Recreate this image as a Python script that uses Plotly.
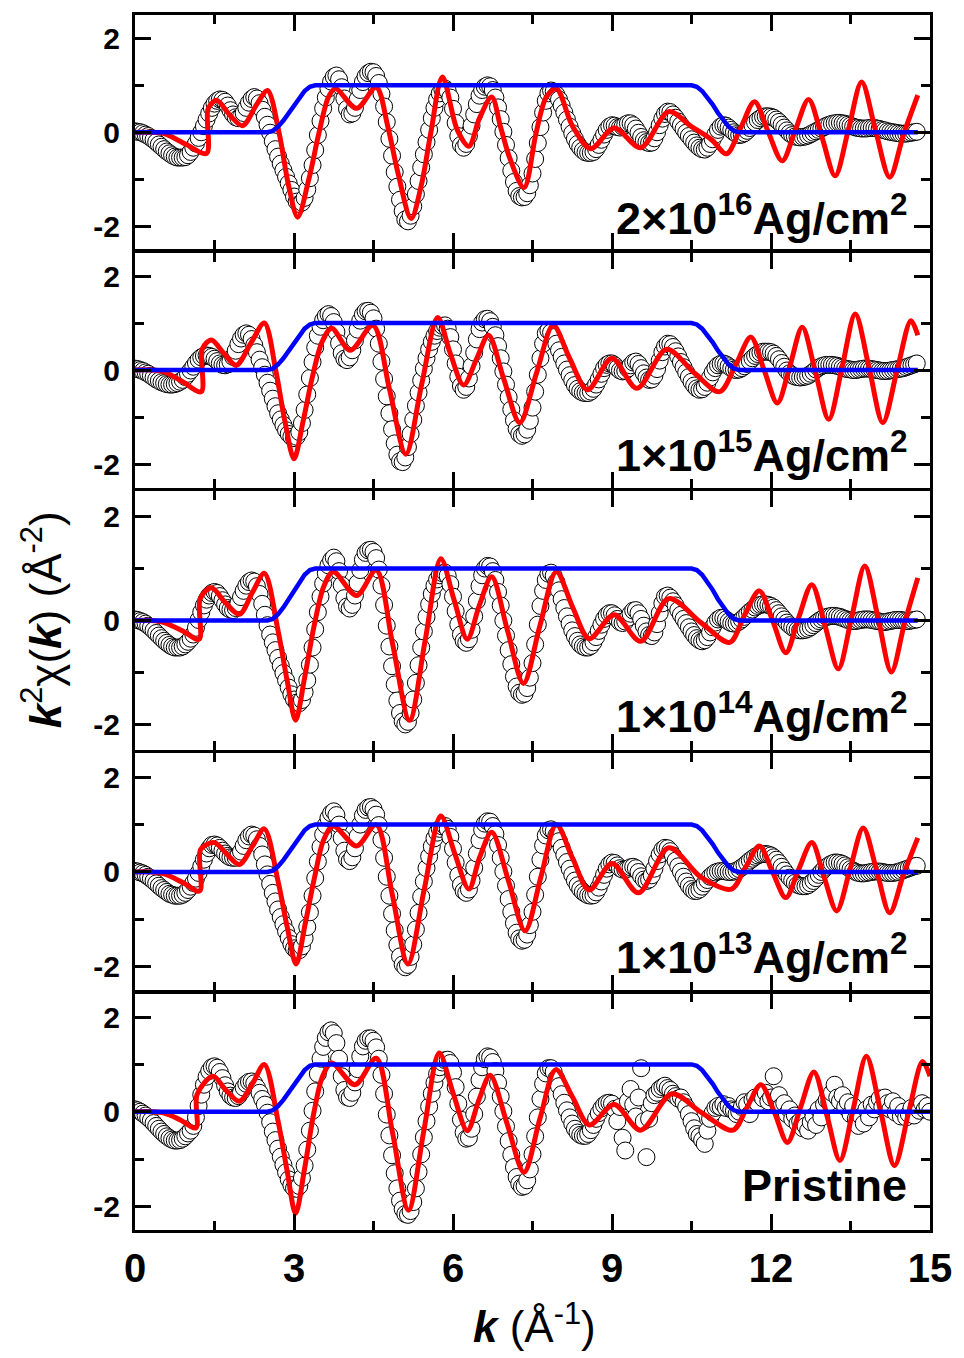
import numpy as np
import plotly.graph_objects as go

# ---------------- data ----------------
K_STEP = 0.05  # sampling step of the measured k^2 chi(k) data

# measured data (open circles), k = 0, 0.05, 0.10, ...
chi_2e16 = [
 0.02, 0.01, 0.00, -0.02, -0.05, -0.08, -0.12, -0.16, -0.21, -0.26, -0.31, -0.36, -0.41, -0.45, -0.49, -0.52, -0.54, -0.54, -0.54, -0.53,
 -0.49, -0.42, -0.33, -0.24, -0.12, 0.00, 0.13, 0.27, 0.40, 0.52, 0.61, 0.67, 0.70, 0.69, 0.65, 0.57, 0.47, 0.38, 0.32, 0.30,
 0.33, 0.41, 0.52, 0.63, 0.71, 0.75, 0.72, 0.62, 0.48, 0.33, 0.16, -0.01, -0.19, -0.36, -0.52, -0.67, -0.81, -0.95, -1.09, -1.23,
 -1.37, -1.48, -1.53, -1.50, -1.40, -1.22, -0.98, -0.70, -0.38, -0.06, 0.24, 0.51, 0.74, 0.93, 1.08, 1.18, 1.21, 1.13, 0.96, 0.72,
 0.50, 0.38, 0.40, 0.52, 0.70, 0.90, 1.07, 1.19, 1.26, 1.29, 1.28, 1.20, 1.05, 0.82, 0.55, 0.22, -0.14, -0.50, -0.85, -1.16,
 -1.44, -1.68, -1.86, -1.90, -1.78, -1.58, -1.32, -1.04, -0.75, -0.47, -0.21, 0.05, 0.30, 0.52, 0.70, 0.83, 0.91, 0.93, 0.88, 0.74,
 0.50, 0.20, -0.08, -0.27, -0.33, -0.25, -0.08, 0.14, 0.38, 0.60, 0.78, 0.90, 0.97, 1.00, 0.98, 0.90, 0.74, 0.53, 0.28, 0.01,
 -0.27, -0.55, -0.82, -1.06, -1.25, -1.36, -1.39, -1.38, -1.30, -1.13, -0.88, -0.57, -0.23, 0.11, 0.42, 0.67, 0.83, 0.89, 0.87, 0.80,
 0.70, 0.57, 0.42, 0.27, 0.12, -0.02, -0.14, -0.25, -0.33, -0.39, -0.43, -0.44, -0.44, -0.42, -0.36, -0.27, -0.16, -0.05, 0.05, 0.12,
 0.15, 0.14, 0.11, 0.10, 0.12, 0.16, 0.19, 0.19, 0.15, 0.08, -0.01, -0.10, -0.17, -0.21, -0.23, -0.22, -0.13, 0.00, 0.15, 0.29,
 0.39, 0.44, 0.43, 0.38, 0.31, 0.23, 0.15, 0.07, -0.01, -0.08, -0.15, -0.22, -0.28, -0.33, -0.36, -0.37, -0.33, -0.25, -0.15, -0.05,
 0.05, 0.12, 0.15, 0.14, 0.10, 0.05, 0.00, -0.04, -0.06, -0.05, -0.02, 0.03, 0.09, 0.15, 0.21, 0.26, 0.30, 0.33, 0.34, 0.34,
 0.33, 0.31, 0.27, 0.22, 0.16, 0.10, 0.04, -0.02, -0.06, -0.09, -0.10, -0.11, -0.10, -0.09, -0.07, -0.04, -0.01, 0.02, 0.05, 0.08,
 0.11, 0.14, 0.16, 0.18, 0.19, 0.20, 0.20, 0.19, 0.18, 0.16, 0.14, 0.12, 0.10, 0.09, 0.08, 0.08, 0.08, 0.09, 0.09, 0.09,
 0.08, 0.07, 0.05, 0.04, 0.02, 0.01, 0.00, -0.01, -0.02, -0.03, -0.03, -0.03, -0.02, -0.01, 0.00, 0.01,
]

chi_1e15 = [
 0.03, 0.02, 0.00, -0.02, -0.05, -0.08, -0.12, -0.16, -0.20, -0.23, -0.26, -0.28, -0.30, -0.31, -0.31, -0.30, -0.28, -0.25, -0.21, -0.15,
 -0.08, -0.01, 0.07, 0.15, 0.22, 0.27, 0.30, 0.31, 0.30, 0.28, 0.24, 0.19, 0.14, 0.11, 0.10, 0.12, 0.18, 0.28, 0.41, 0.55,
 0.67, 0.75, 0.78, 0.75, 0.66, 0.53, 0.38, 0.22, 0.06, -0.10, -0.27, -0.44, -0.61, -0.77, -0.92, -1.05, -1.17, -1.28, -1.36, -1.42,
 -1.45, -1.42, -1.32, -1.13, -0.85, -0.52, -0.17, 0.17, 0.48, 0.73, 0.92, 1.06, 1.15, 1.19, 1.15, 1.02, 0.81, 0.57, 0.36, 0.24,
 0.21, 0.27, 0.42, 0.63, 0.86, 1.05, 1.18, 1.25, 1.26, 1.22, 1.10, 0.88, 0.56, 0.18, -0.19, -0.56, -0.92, -1.26, -1.56, -1.80,
 -1.94, -1.96, -1.86, -1.64, -1.36, -1.06, -0.76, -0.48, -0.22, 0.03, 0.25, 0.44, 0.60, 0.73, 0.83, 0.90, 0.94, 0.95, 0.88, 0.70,
 0.44, 0.14, -0.14, -0.34, -0.42, -0.36, -0.18, 0.08, 0.37, 0.65, 0.87, 1.01, 1.08, 1.09, 1.04, 0.92, 0.74, 0.51, 0.25, -0.03,
 -0.31, -0.58, -0.84, -1.07, -1.25, -1.36, -1.40, -1.37, -1.27, -1.08, -0.80, -0.46, -0.10, 0.25, 0.56, 0.78, 0.84, 0.80, 0.70, 0.56,
 0.42, 0.28, 0.14, 0.01, -0.11, -0.22, -0.32, -0.40, -0.45, -0.48, -0.49, -0.49, -0.46, -0.40, -0.31, -0.20, -0.08, 0.04, 0.11, 0.14,
 0.14, 0.10, 0.04, -0.01, -0.03, -0.02, 0.03, 0.10, 0.16, 0.18, 0.13, 0.04, -0.07, -0.16, -0.21, -0.20, -0.12, 0.02, 0.20, 0.38,
 0.50, 0.56, 0.55, 0.49, 0.40, 0.29, 0.17, 0.06, -0.05, -0.15, -0.25, -0.33, -0.39, -0.42, -0.41, -0.36, -0.27, -0.16, -0.05, 0.04,
 0.10, 0.13, 0.14, 0.12, 0.08, 0.04, 0.01, 0.00, 0.01, 0.04, 0.08, 0.13, 0.19, 0.25, 0.30, 0.34, 0.37, 0.39, 0.39, 0.39,
 0.38, 0.35, 0.30, 0.23, 0.15, 0.07, -0.01, -0.07, -0.11, -0.14, -0.15, -0.16, -0.15, -0.14, -0.12, -0.08, -0.04, 0.01, 0.05, 0.08,
 0.10, 0.11, 0.11, 0.11, 0.10, 0.09, 0.07, 0.05, 0.03, 0.02, 0.01, 0.00, 0.00, 0.01, 0.02, 0.03, 0.03, 0.03, 0.02, 0.01,
 0.00, -0.01, -0.02, -0.02, -0.02, -0.01, 0.00, 0.01, 0.02, 0.03, 0.04, 0.06, 0.08, 0.10, 0.12, 0.14,
]

chi_1e14 = [
 0.02, 0.01, -0.01, -0.03, -0.06, -0.10, -0.14, -0.19, -0.24, -0.29, -0.34, -0.39, -0.43, -0.47, -0.50, -0.52, -0.52, -0.52, -0.50, -0.46,
 -0.41, -0.35, -0.27, -0.14, 0.01, 0.16, 0.29, 0.40, 0.48, 0.53, 0.55, 0.53, 0.47, 0.39, 0.31, 0.24, 0.21, 0.20, 0.24, 0.33,
 0.45, 0.57, 0.67, 0.74, 0.77, 0.75, 0.66, 0.51, 0.32, 0.11, -0.09, -0.27, -0.42, -0.57, -0.72, -0.87, -1.01, -1.15, -1.29, -1.42,
 -1.52, -1.58, -1.59, -1.53, -1.38, -1.15, -0.85, -0.52, -0.17, 0.16, 0.46, 0.71, 0.91, 1.06, 1.16, 1.21, 1.14, 0.95, 0.68, 0.43,
 0.27, 0.23, 0.30, 0.48, 0.72, 0.97, 1.17, 1.30, 1.35, 1.36, 1.32, 1.20, 0.98, 0.67, 0.30, -0.10, -0.50, -0.88, -1.23, -1.54,
 -1.78, -1.94, -2.00, -1.95, -1.78, -1.52, -1.20, -0.86, -0.52, -0.21, 0.07, 0.31, 0.51, 0.67, 0.79, 0.87, 0.91, 0.92, 0.86, 0.70,
 0.46, 0.18, -0.08, -0.27, -0.39, -0.43, -0.36, -0.18, 0.08, 0.38, 0.66, 0.87, 1.00, 1.05, 1.04, 0.95, 0.78, 0.55, 0.29, 0.00,
 -0.29, -0.57, -0.84, -1.08, -1.27, -1.39, -1.43, -1.41, -1.30, -1.10, -0.82, -0.46, -0.08, 0.28, 0.57, 0.78, 0.90, 0.92, 0.86, 0.74,
 0.58, 0.41, 0.24, 0.08, -0.06, -0.19, -0.30, -0.39, -0.46, -0.50, -0.52, -0.52, -0.49, -0.42, -0.32, -0.20, -0.08, 0.03, 0.10, 0.14,
 0.14, 0.10, 0.03, -0.03, -0.05, -0.02, 0.05, 0.13, 0.19, 0.20, 0.14, 0.03, -0.10, -0.21, -0.28, -0.30, -0.23, -0.07, 0.14, 0.33,
 0.46, 0.48, 0.44, 0.37, 0.29, 0.20, 0.11, 0.03, -0.05, -0.13, -0.21, -0.28, -0.34, -0.38, -0.40, -0.38, -0.32, -0.23, -0.13, -0.04,
 0.02, 0.05, 0.05, 0.02, -0.02, -0.05, -0.06, -0.05, -0.02, 0.02, 0.07, 0.12, 0.17, 0.21, 0.25, 0.28, 0.30, 0.31, 0.31, 0.30,
 0.28, 0.25, 0.20, 0.14, 0.08, 0.02, -0.04, -0.09, -0.13, -0.16, -0.18, -0.19, -0.19, -0.18, -0.16, -0.13, -0.09, -0.05, -0.01, 0.02,
 0.05, 0.07, 0.08, 0.09, 0.09, 0.08, 0.07, 0.05, 0.03, 0.01, 0.00, -0.01, -0.01, 0.00, 0.01, 0.02, 0.02, 0.02, 0.01, 0.00,
 -0.01, -0.02, -0.03, -0.03, -0.02, -0.01, 0.00, 0.01, 0.01, 0.01, 0.00, -0.01, -0.01, 0.00, 0.01, 0.02,
]

chi_1e13 = [
 0.02, 0.01, -0.01, -0.03, -0.06, -0.10, -0.14, -0.19, -0.24, -0.29, -0.34, -0.38, -0.42, -0.46, -0.48, -0.50, -0.50, -0.50, -0.48, -0.44,
 -0.38, -0.31, -0.23, -0.14, -0.02, 0.12, 0.26, 0.39, 0.50, 0.57, 0.58, 0.56, 0.51, 0.45, 0.39, 0.34, 0.31, 0.30, 0.30, 0.34,
 0.43, 0.55, 0.67, 0.75, 0.79, 0.77, 0.69, 0.55, 0.37, 0.16, -0.05, -0.25, -0.44, -0.62, -0.79, -0.95, -1.10, -1.25, -1.39, -1.52,
 -1.61, -1.66, -1.65, -1.57, -1.40, -1.16, -0.85, -0.50, -0.13, 0.22, 0.53, 0.79, 0.99, 1.14, 1.24, 1.28, 1.20, 1.00, 0.72, 0.45,
 0.27, 0.23, 0.31, 0.50, 0.75, 1.00, 1.19, 1.31, 1.36, 1.37, 1.33, 1.21, 0.99, 0.68, 0.30, -0.10, -0.50, -0.88, -1.23, -1.54,
 -1.78, -1.95, -2.01, -1.96, -1.79, -1.53, -1.21, -0.86, -0.52, -0.20, 0.08, 0.33, 0.54, 0.71, 0.83, 0.91, 0.96, 0.97, 0.91, 0.74,
 0.49, 0.20, -0.07, -0.27, -0.40, -0.44, -0.37, -0.18, 0.09, 0.39, 0.67, 0.89, 1.02, 1.07, 1.06, 0.97, 0.80, 0.57, 0.30, 0.01,
 -0.29, -0.57, -0.84, -1.08, -1.28, -1.40, -1.45, -1.43, -1.32, -1.12, -0.84, -0.48, -0.10, 0.26, 0.56, 0.77, 0.88, 0.90, 0.86, 0.77,
 0.65, 0.51, 0.36, 0.21, 0.07, -0.06, -0.18, -0.28, -0.36, -0.42, -0.46, -0.49, -0.50, -0.49, -0.43, -0.33, -0.20, -0.06, 0.07, 0.16,
 0.20, 0.19, 0.14, 0.08, 0.05, 0.05, 0.07, 0.10, 0.11, 0.08, 0.00, -0.09, -0.16, -0.19, -0.16, -0.07, 0.07, 0.23, 0.37, 0.47,
 0.51, 0.50, 0.44, 0.35, 0.24, 0.12, 0.01, -0.10, -0.20, -0.29, -0.36, -0.40, -0.40, -0.37, -0.31, -0.24, -0.17, -0.10, -0.05, -0.01,
 0.01, 0.02, 0.02, 0.01, 0.00, 0.00, 0.01, 0.03, 0.06, 0.10, 0.14, 0.19, 0.24, 0.28, 0.32, 0.35, 0.37, 0.38, 0.38, 0.37,
 0.35, 0.31, 0.26, 0.19, 0.11, 0.03, -0.05, -0.12, -0.18, -0.23, -0.27, -0.29, -0.30, -0.30, -0.28, -0.24, -0.19, -0.13, -0.06, 0.00,
 0.06, 0.11, 0.15, 0.18, 0.20, 0.20, 0.19, 0.17, 0.14, 0.10, 0.06, 0.03, 0.00, -0.02, -0.03, -0.03, -0.02, -0.01, 0.00, 0.01,
 0.01, 0.01, 0.00, -0.01, -0.02, -0.02, -0.02, -0.01, 0.00, 0.02, 0.04, 0.06, 0.08, 0.10, 0.12, 0.13,
]

chi_pristine = [
 0.05, 0.03, 0.00, -0.04, -0.08, -0.13, -0.18, -0.24, -0.30, -0.36, -0.42, -0.47, -0.52, -0.56, -0.59, -0.61, -0.61, -0.60, -0.57, -0.52,
 -0.46, -0.40, -0.30, -0.12, 0.12, 0.36, 0.57, 0.74, 0.86, 0.94, 0.96, 0.93, 0.84, 0.71, 0.56, 0.43, 0.34, 0.30, 0.29, 0.33,
 0.41, 0.51, 0.59, 0.63, 0.64, 0.60, 0.51, 0.40, 0.27, 0.15, -0.02, -0.22, -0.42, -0.60, -0.78, -0.95, -1.12, -1.28, -1.43, -1.55,
 -1.62, -1.63, -1.57, -1.40, -1.14, -0.80, -0.40, 0.02, 0.43, 0.80, 1.12, 1.37, 1.56, 1.68, 1.72, 1.66, 1.45, 1.12, 0.75, 0.46,
 0.31, 0.29, 0.40, 0.62, 0.90, 1.17, 1.38, 1.50, 1.55, 1.55, 1.50, 1.36, 1.12, 0.78, 0.38, -0.06, -0.50, -0.92, -1.30, -1.62,
 -1.88, -2.06, -2.16, -2.18, -2.10, -1.91, -1.62, -1.27, -0.90, -0.54, -0.20, 0.11, 0.38, 0.61, 0.80, 0.94, 1.04, 1.09, 1.10, 1.03,
 0.83, 0.52, 0.17, -0.17, -0.44, -0.57, -0.55, -0.36, -0.05, 0.32, 0.67, 0.94, 1.11, 1.17, 1.15, 1.05, 0.86, 0.61, 0.32, 0.01,
 -0.31, -0.62, -0.91, -1.17, -1.38, -1.52, -1.59, -1.57, -1.45, -1.22, -0.90, -0.52, -0.12, 0.27, 0.59, 0.81, 0.92, 0.92, 0.84, 0.70,
 0.54, 0.37, 0.19, 0.03, -0.12, -0.25, -0.36, -0.44, -0.49, -0.51, -0.51, -0.47, -0.39, -0.28, -0.15, -0.03, 0.07, 0.14, 0.18, 0.19,
 0.17, 0.06, -0.20, 0.10, -0.55, -0.82, 0.22, 0.48, 0.15, -0.10, 0.30, 0.92, -0.20, -0.96, -0.15, 0.18, 0.35, 0.40, 0.48, 0.52,
 0.55, 0.50, 0.46, 0.38, 0.33, 0.28, 0.30, 0.20, 0.10, -0.05, -0.20, -0.35, -0.47, -0.52, -0.60, -0.68, -0.40, -0.15, -0.02, 0.08,
 0.12, 0.10, 0.16, 0.08, 0.12, 0.05, 0.02, -0.05, 0.00, 0.10, 0.20, 0.15, -0.05, 0.25, 0.30, 0.18, 0.35, 0.28, 0.40, 0.22,
 0.30, 0.75, 0.25, 0.35, 0.12, 0.18, -0.05, 0.05, -0.15, -0.08, -0.25, -0.20, -0.35, -0.30, -0.40, -0.22, -0.10, -0.28, 0.05, -0.12,
 0.15, 0.25, 0.20, 0.40, 0.57, 0.30, 0.22, 0.35, 0.10, 0.20, -0.05, 0.12, -0.15, -0.30, -0.10, -0.25, 0.05, -0.12, 0.15, 0.05,
 0.20, 0.28, 0.10, 0.30, 0.18, 0.05, 0.22, -0.02, 0.12, -0.10, 0.00, -0.12, -0.05, 0.08, -0.08, 0.10, 0.02, 0.18, 0.05, 0.12,
 0.00,
]

# fits (red curves): key points (k, value)
fit_k_2e16 = [0, 0.3, 0.55, 0.95, 1.35, 1.38, 1.54, 1.8, 2.03, 2.3, 2.5, 2.72, 2.9, 3.07, 3.28, 3.47, 3.65, 3.78, 4.18, 4.55,
              4.77, 4.96, 5.21, 5.4, 5.58, 5.8, 6.08, 6.3, 6.5, 6.73, 6.9, 7.08, 7.34, 7.57, 7.76, 7.95, 8.26, 8.6, 9.04, 9.54,
              10.07, 10.5, 10.88, 11.16, 11.43, 11.69, 11.95, 12.21, 12.46, 12.71, 12.96, 13.21, 13.46, 13.71, 13.97, 14.24, 14.5, 14.77]
fit_v_2e16 = [0, 0, -0.03, -0.25, -0.45, 0.50, 0.68, 0.35, 0.14, 0.60, 0.89, -0.02, -1.15, -1.81, -1.0, -0.02, 0.75, 0.93, 0.51, 0.96,
              0.12, -0.86, -1.84, -1.14, -0.02, 1.18, 0.05, -0.30, 0.30, 0.75, 0.10, -0.58, -1.18, 0.0, 0.75, 0.93, 0.12, -0.35, 0.09, -0.33,
              0.44, 0.12, -0.16, -0.46, 0.10, 0.65, 0.0, -0.61, 0.05, 0.70, -0.10, -0.93, 0.05, 1.07, 0.05, -0.96, -0.05, 0.79]

fit_k_1e15 = [0, 0.3, 0.55, 0.9, 1.25, 1.27, 1.44, 1.68, 1.91, 2.2, 2.44, 2.66, 2.83, 3.0, 3.17, 3.34, 3.53, 3.71, 4.06, 4.49,
              4.8, 5.11, 5.41, 5.71, 5.95, 6.2, 6.45, 6.67, 6.96, 7.26, 7.58, 7.89, 8.2, 8.54, 9.0, 9.47, 10.03, 10.56, 11.03, 11.33,
              11.62, 11.87, 12.12, 12.36, 12.59, 12.84, 13.09, 13.34, 13.59, 13.85, 14.11, 14.38, 14.64, 14.77]
fit_v_1e15 = [0, 0, -0.04, -0.25, -0.46, 0.45, 0.64, 0.35, 0.10, 0.60, 1.0, -0.03, -1.10, -1.89, -1.10, -0.18, 0.60, 0.89, 0.42, 0.95,
              -0.40, -1.79, -0.30, 1.12, 0.35, -0.32, 0.25, 0.74, -0.20, -1.12, -0.05, 0.95, 0.25, -0.42, 0.25, -0.39, 0.44, -0.07, -0.46, 0.10,
              0.70, 0.0, -0.70, 0.10, 0.91, -0.05, -1.05, 0.05, 1.19, 0.05, -1.12, 0.0, 1.05, 0.74]

fit_k_1e14 = [0, 0.3, 0.55, 0.9, 1.21, 1.23, 1.44, 1.7, 1.97, 2.22, 2.44, 2.7, 2.87, 3.03, 3.2, 3.38, 3.56, 3.74, 4.18, 4.55,
              4.86, 5.18, 5.48, 5.77, 6.02, 6.27, 6.5, 6.73, 7.03, 7.33, 7.64, 7.95, 8.26, 8.57, 9.04, 9.54, 10.07, 10.69, 11.22, 11.5,
              11.78, 12.03, 12.28, 12.52, 12.77, 13.02, 13.27, 13.52, 13.77, 14.02, 14.27, 14.52, 14.77]
fit_v_1e14 = [0, 0, -0.04, -0.20, -0.36, 0.42, 0.63, 0.35, 0.12, 0.55, 0.91, -0.20, -1.15, -1.92, -1.10, -0.10, 0.65, 0.94, 0.48, 0.97,
              -0.45, -1.92, -0.35, 1.19, 0.40, -0.36, 0.30, 0.84, -0.20, -1.21, -0.10, 0.94, 0.25, -0.35, 0.11, -0.40, 0.42, -0.05, -0.42, 0.10,
              0.57, 0.0, -0.62, 0.05, 0.69, -0.10, -0.93, 0.05, 1.05, 0.05, -0.99, -0.05, 0.82]

fit_k_1e13 = [0, 0.3, 0.55, 0.9, 1.22, 1.24, 1.5, 1.73, 1.97, 2.22, 2.44, 2.7, 2.87, 3.04, 3.21, 3.39, 3.56, 3.74, 4.18, 4.55,
              4.85, 5.15, 5.46, 5.77, 6.03, 6.3, 6.5, 6.73, 7.05, 7.36, 7.66, 7.95, 8.26, 8.57, 9.0, 9.5, 10.07, 10.69, 11.25, 11.52,
              11.78, 12.03, 12.28, 12.52, 12.77, 13.0, 13.24, 13.49, 13.74, 13.99, 14.24, 14.5, 14.77]
fit_v_1e13 = [0, 0, -0.04, -0.22, -0.40, 0.48, 0.62, 0.38, 0.16, 0.55, 0.91, -0.20, -1.15, -1.94, -1.10, -0.10, 0.68, 0.97, 0.55, 1.0,
              -0.45, -1.94, -0.35, 1.18, 0.40, -0.36, 0.30, 0.84, -0.20, -1.24, -0.10, 1.0, 0.28, -0.38, 0.18, -0.44, 0.51, -0.12, -0.36, 0.10,
              0.55, 0.0, -0.54, 0.05, 0.62, -0.10, -0.82, 0.05, 0.93, 0.05, -0.86, -0.05, 0.72]

fit_k_pristine = [0, 0.3, 0.55, 0.85, 1.15, 1.17, 1.47, 1.72, 1.97, 2.22, 2.44, 2.7, 2.87, 3.03, 3.2, 3.37, 3.54, 3.71, 4.15, 4.55,
                  4.86, 5.16, 5.45, 5.74, 6.0, 6.27, 6.49, 6.7, 7.02, 7.34, 7.64, 7.94, 8.26, 8.57, 9.04, 9.54, 10.13, 10.69, 11.28, 11.55,
                  11.81, 12.06, 12.31, 12.56, 12.81, 13.06, 13.3, 13.55, 13.8, 14.07, 14.33, 14.6, 14.86, 15.0]
fit_v_pristine = [0, 0, -0.03, -0.17, -0.34, 0.36, 0.75, 0.45, 0.22, 0.60, 1.0, -0.20, -1.25, -2.15, -1.20, -0.05, 0.75, 1.03, 0.57, 1.13,
                  -0.45, -2.08, -0.40, 1.24, 0.40, -0.40, 0.25, 0.77, -0.25, -1.28, -0.15, 0.89, 0.30, -0.28, 0.15, -0.39, 0.38, -0.02, -0.39, 0.10,
                  0.57, 0.0, -0.65, 0.10, 0.84, -0.10, -1.03, 0.05, 1.17, 0.0, -1.14, 0.0, 1.06, 0.75]

# Fourier-transform window (blue)
win_k = [0, 2.5, 2.6, 2.7, 2.8, 2.9, 3.0, 3.1, 3.2, 3.3, 3.4,
         10.5, 10.6, 10.7, 10.8, 10.9, 11.0, 11.1, 11.2, 11.3, 11.4, 14.77]
win_v = [0, 0, 0.03, 0.12, 0.25, 0.41, 0.59, 0.75, 0.88, 0.97, 1.0,
         1.0, 0.97, 0.88, 0.75, 0.59, 0.41, 0.25, 0.12, 0.03, 0.0, 0.0]
win_k_pristine = win_k[:-1] + [15.0]

panel_labels = ["2\u00d710<sup>16</sup>Ag/cm<sup>2</sup>", "1\u00d710<sup>15</sup>Ag/cm<sup>2</sup>",
                "1\u00d710<sup>14</sup>Ag/cm<sup>2</sup>", "1\u00d710<sup>13</sup>Ag/cm<sup>2</sup>", "Pristine"]

panels = [
    (chi_2e16, fit_k_2e16, fit_v_2e16, win_k, win_v),
    (chi_1e15, fit_k_1e15, fit_v_1e15, win_k, win_v),
    (chi_1e14, fit_k_1e14, fit_v_1e14, win_k, win_v),
    (chi_1e13, fit_k_1e13, fit_v_1e13, win_k, win_v),
    (chi_pristine, fit_k_pristine, fit_v_pristine, win_k_pristine, win_v),
]

# ---------------- layout ----------------
W, H = 964, 1358
ML, MR, MT, MB = 135, 28, 15, 128
# panel domains leave a 3 px gap so that neighbouring frame lines coincide
domains = [(0.8070, 1.0), (0.6111, 0.8045), (0.3947, 0.6086), (0.1971, 0.3922), (0.0, 0.1947)]
label_y = [-1.76, -1.74, -1.78, -1.72, -1.56]

FONT = "Liberation Sans, Arial, Helvetica, sans-serif"

fig = go.Figure()
layout = dict(
    width=W, height=H, margin=dict(l=ML, r=MR, t=MT, b=MB),
    paper_bgcolor="white", plot_bgcolor="white", showlegend=False,
    font=dict(family=FONT, color="black"),
)

annotations = []
for i, (chi, fk, fv, wk, wv) in enumerate(panels):
    n = i + 1
    xa = "x" if n == 1 else f"x{n}"
    ya = "y" if n == 1 else f"y{n}"
    kdata = np.round(np.arange(len(chi)) * K_STEP, 2)
    fig.add_trace(go.Scatter(x=kdata, y=chi, mode="markers", xaxis=xa, yaxis=ya,
                             marker=dict(symbol="circle", size=17, color="white",
                                         line=dict(color="black", width=1))))
    fig.add_trace(go.Scatter(x=fk, y=fv, mode="lines", xaxis=xa, yaxis=ya,
                             line=dict(color="#ff0000", width=5, shape="spline", smoothing=0.9)))
    fig.add_trace(go.Scatter(x=wk, y=wv, mode="lines", xaxis=xa, yaxis=ya,
                             line=dict(color="#0000ff", width=4.5)))

    last = (n == 5)
    layout["xaxis" if n == 1 else f"xaxis{n}"] = dict(
        domain=[0, 1], anchor=ya, range=[0, 15], tickmode="array", tickvals=[0, 3, 6, 9, 12, 15],
        ticktext=["0", "3", "6", "9", "12", "15"],
        ticks="inside", ticklen=16, tickwidth=3, tickcolor="black",
        showline=True, linewidth=3, linecolor="black", mirror="allticks",
        showgrid=False, zeroline=False, showticklabels=last, ticklabelstandoff=1,
        tickfont=dict(family=FONT, size=40, color="black", weight="bold"),
        minor=dict(tickmode="array", tickvals=[1.5, 4.5, 7.5, 10.5, 13.5], ticks="inside",
                   ticklen=9, tickwidth=3, tickcolor="black", showgrid=False),
    )
    layout["yaxis" if n == 1 else f"yaxis{n}"] = dict(
        domain=list(domains[i]), anchor=xa, range=[-2.5, 2.5], tickmode="array",
        tickvals=[-2, 0, 2], ticktext=["-2", "0", "2"],
        ticks="inside", ticklen=16, tickwidth=3, tickcolor="black",
        showline=True, linewidth=3, linecolor="black", mirror="allticks",
        showgrid=False, zeroline=False, ticklabelstandoff=6,
        tickfont=dict(family=FONT, size=30, color="black", weight="bold"),
        minor=dict(tickmode="array", tickvals=[-1, 1], ticks="inside",
                   ticklen=9, tickwidth=3, tickcolor="black", showgrid=False),
    )
    annotations.append(dict(text=panel_labels[i], xref=xa, yref=ya, x=14.6, y=label_y[i],
                            xanchor="right", yanchor="middle", showarrow=False,
                            font=dict(family=FONT, size=45, color="black", weight="bold")))

annotations.append(dict(text="<b><i>k</i></b> (\u00c5<sup>-1</sup>)", xref="paper", yref="paper",
                        x=0.5025, y=-0.077, xanchor="center", yanchor="middle", showarrow=False,
                        font=dict(family=FONT, size=44, color="black")))
annotations.append(dict(text="<b><i>k</i></b><sup>2</sup>\u03c7(<b><i>k</i></b>) (\u00c5<sup>-2</sup>)",
                        xref="paper", yref="paper", x=-0.118, y=0.502, textangle=-90,
                        xanchor="center", yanchor="middle", showarrow=False,
                        font=dict(family=FONT, size=44, color="black")))
layout["annotations"] = annotations
fig.update_layout(**layout)
fig.write_html("out.html")
